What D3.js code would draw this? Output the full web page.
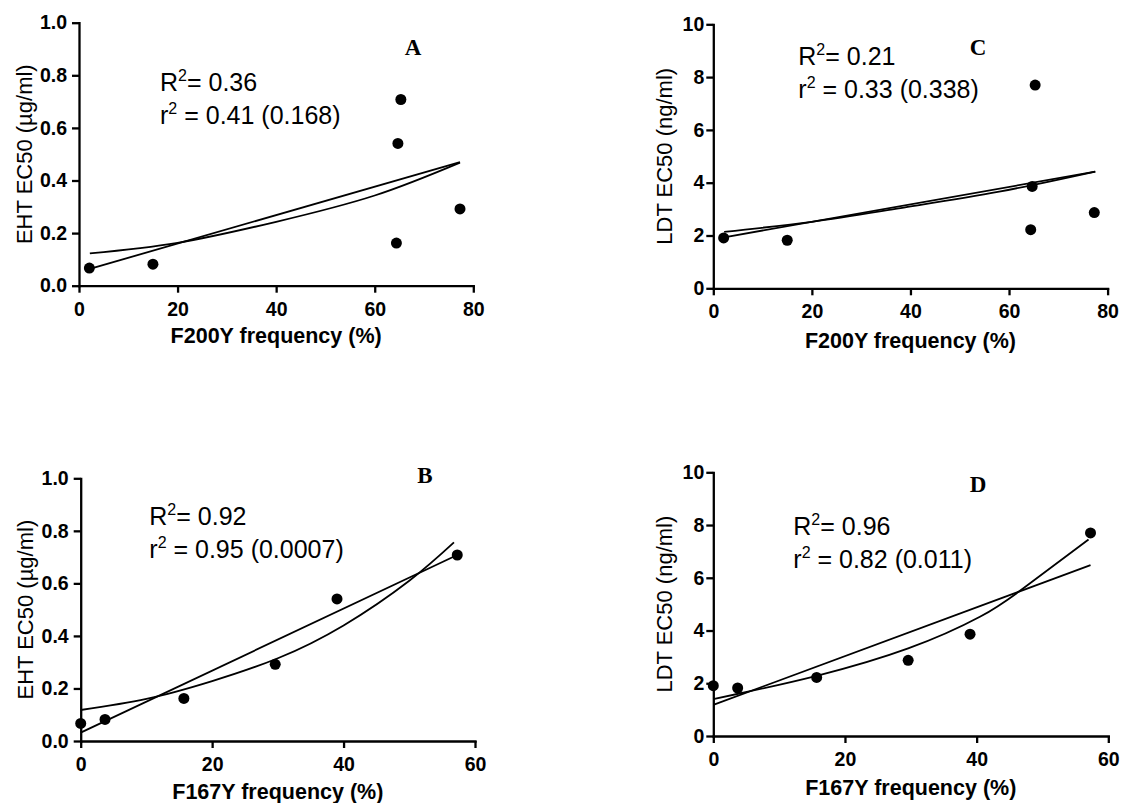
<!DOCTYPE html>
<html>
<head>
<meta charset="utf-8">
<script src="https://cdn.jsdelivr.net/npm/d3@7"></script>
<style>
  body { margin: 0; background: #fff; }
  svg text { font-family: "Liberation Sans", Arial, sans-serif; fill: #000; white-space: pre; }
  .axis .tick text { font-weight: bold; font-size: 19.5px; }
  .axis path, .axis line { stroke: #000; stroke-width: 2.3; }
  .fit { fill: none; stroke: #000; stroke-width: 1.8; }
  .ylab { font-size: 22px; }
  .xlab { font-size: 21.5px; font-weight: bold; }
  .stat { font-size: 25px; }
  .letter { font-family: "Liberation Serif", "Times New Roman", serif; font-weight: bold; font-size: 23px; }
</style>
</head>
<body>
<svg id="chart" width="1121" height="803"></svg>
<script>
// isolates: resistance-allele frequency vs EC50
const f200y   = [2.1, 15.0, 64.4, 77.3, 64.7, 65.3];
const f167y   = [0, 3.7, 15.7, 29.6, 39.0, 57.3];
const ehtEC50 = [0.067, 0.082, 0.162, 0.292, 0.541, 0.708];
const ldtEC50 = [1.91, 1.82, 2.22, 2.87, 3.86, 7.70];

// fitted lines, as drawn (linear and exponential)
const linA = [[2.2, 0.064], [77.3, 0.470]];
const expA = [[2.2, 0.123], [20, 0.163], [40, 0.243], [60, 0.343], [77.3, 0.468]];
const linB = [[0, 0.032], [57.3, 0.708]];
const expB = [[0, 0.118], [10, 0.160], [20, 0.228], [30, 0.315], [40, 0.440], [50, 0.610], [56.8, 0.756]];
const linC = [[2.2, 1.93], [77.5, 4.42]];
const expC = [[2.2, 2.14], [20, 2.52], [38, 3.04], [58, 3.66], [77.5, 4.42]];
const linD = [[0, 1.18], [57.3, 6.48]];
const expD = [[0, 1.40], [4.5, 1.64], [15.7, 2.28], [29.6, 3.32], [40.5, 4.52], [47.1, 5.60], [57, 7.45]];

const xTicks80 = [0, 20, 40, 60, 80];
const xTicks60 = [0, 20, 40, 60];
const yTicksEHT = [0, 0.2, 0.4, 0.6, 0.8, 1.0];
const yTicksLDT = [0, 2, 4, 6, 8, 10];

// [R2, r2, p]
const statsA = ['0.36', '0.41', '0.168'];
const statsB = ['0.92', '0.95', '0.0007'];
const statsC = ['0.21', '0.33', '0.338'];
const statsD = ['0.96', '0.82', '0.011'];

const panels = [
  { letter: 'A', xs: f200y, ys: ehtEC50, xMax: 80, yMax: 1, xTicks: xTicks80, yTicks: yTicksEHT, yFmt: d3.format('.1f'),
    box: [79, 473.3, 22.7, 285.7], xLabel: 'F200Y frequency (%)', yLabel: 'EHT EC50 (µg/ml)',
    lin: linA, exp: expA, stats: statsA, statPos: [160, 90.7, 124], letterPos: [413, 55],
    xLabY: 343, yLabX: 31.5, yPad: 5 },
  { letter: 'B', xs: f167y, ys: ehtEC50, xMax: 60, yMax: 1, xTicks: xTicks60, yTicks: yTicksEHT, yFmt: d3.format('.1f'),
    box: [80.7, 475, 478.3, 741], xLabel: 'F167Y frequency (%)', yLabel: 'EHT EC50 (µg/ml)',
    lin: linB, exp: expB, stats: statsB, statPos: [149.3, 525, 558.3], letterPos: [425, 483],
    xLabY: 799, yLabX: 33, yPad: 5 },
  { letter: 'C', xs: f200y, ys: ldtEC50, xMax: 80, yMax: 10, xTicks: xTicks80, yTicks: yTicksLDT, yFmt: d3.format('d'),
    box: [713.3, 1107.6, 24.3, 288.3], xLabel: 'F200Y frequency (%)', yLabel: 'LDT EC50 (ng/ml)',
    lin: linC, exp: expC, stats: statsC, statPos: [798.3, 65, 98.3], letterPos: [978, 55],
    xLabY: 348, yLabX: 671.5, yPad: 2 },
  { letter: 'D', xs: f167y, ys: ldtEC50, xMax: 60, yMax: 10, xTicks: xTicks60, yTicks: yTicksLDT, yFmt: d3.format('d'),
    box: [713.3, 1108.3, 472.3, 736], xLabel: 'F167Y frequency (%)', yLabel: 'LDT EC50 (ng/ml)',
    lin: linD, exp: expD, stats: statsD, statPos: [793.3, 535, 568.3], letterPos: [978, 491.7],
    xLabY: 795, yLabX: 671.5, yPad: 2 }
];

const svg = d3.select('#chart');

panels.forEach(p => {
  const [x0, x1, y0, y1] = p.box;
  const x = d3.scaleLinear().domain([0, p.xMax]).range([x0, x1]);
  const y = d3.scaleLinear().domain([0, p.yMax]).range([y1, y0]);
  const g = svg.append('g').attr('class', 'panel-' + p.letter);

  g.append('g').attr('class', 'axis')
    .attr('transform', `translate(0,${y1})`)
    .call(d3.axisBottom(x).tickValues(p.xTicks).tickFormat(d3.format('d'))
      .tickSize(7).tickSizeOuter(0).tickPadding(9));

  g.append('g').attr('class', 'axis')
    .attr('transform', `translate(${x0},0)`)
    .call(d3.axisLeft(y).tickValues(p.yTicks).tickFormat(p.yFmt)
      .tickSize(7).tickSizeOuter(0).tickPadding(p.yPad));

  g.selectAll('.domain').attr('stroke-linecap', 'square');

  // fitted curves
  const line = d3.line().x(d => x(d[0])).y(d => y(d[1]));
  g.append('path').attr('class', 'fit').attr('d', line(p.lin));
  g.append('path').attr('class', 'fit').attr('d', line.curve(d3.curveNatural)(p.exp));

  // data points
  g.selectAll('circle')
    .data(p.xs.map((v, i) => [v, p.ys[i]]))
    .join('circle')
    .attr('cx', d => x(d[0]))
    .attr('cy', d => y(d[1]))
    .attr('r', 5.5)
    .attr('fill', '#000');

  // axis titles
  g.append('text').attr('class', 'xlab')
    .attr('x', (x0 + x1) / 2).attr('y', p.xLabY)
    .attr('text-anchor', 'middle')
    .text(p.xLabel);

  g.append('text').attr('class', 'ylab')
    .attr('transform', `translate(${p.yLabX},${(y0 + y1) / 2}) rotate(-90)`)
    .attr('text-anchor', 'middle')
    .text(p.yLabel);

  // R2 / r2 annotation
  const [sx, sy1, sy2] = p.statPos;
  const t1 = g.append('text').attr('class', 'stat').attr('x', sx).attr('y', sy1);
  t1.append('tspan').text('R');
  t1.append('tspan').attr('dy', -10).attr('font-size', 16).text('2');
  t1.append('tspan').attr('dy', 10).text('= ' + p.stats[0]);

  const t2 = g.append('text').attr('class', 'stat').attr('x', sx).attr('y', sy2);
  t2.append('tspan').text('r');
  t2.append('tspan').attr('dy', -10).attr('font-size', 16).text('2');
  t2.append('tspan').attr('dy', 10).text(` = ${p.stats[1]} (${p.stats[2]})`);

  g.append('text').attr('class', 'letter')
    .attr('x', p.letterPos[0]).attr('y', p.letterPos[1])
    .attr('text-anchor', 'middle')
    .text(p.letter);
});
</script>
</body>
</html>
